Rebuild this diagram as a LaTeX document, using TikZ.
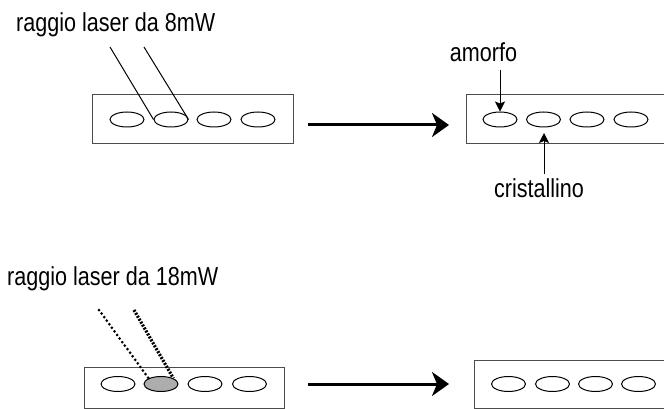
\documentclass[tikz,border=0pt]{standalone}
\usepackage{fontspec}
\setmainfont{Liberation Sans}[FakeStretch=0.83]
\usetikzlibrary{shapes.geometric,arrows.meta}
\begin{document}
\begin{tikzpicture}[x=1pt,y=-1pt,
  lbl/.style={font=\fontsize{26}{31}\selectfont, inner sep=0pt},
  panel/.style={draw=black!70, line width=1pt},
  cell/.style={ellipse, draw=black, line width=1pt, minimum width=34pt, minimum height=15pt, inner sep=0pt},
  bigarrow/.style={line width=3pt, -{Stealth[length=17pt,width=24pt,inset=5pt]}},
  smallarrow/.style={line width=0.8pt, -{Stealth[length=10pt,width=10pt,inset=2pt]}},
  beam/.style={line width=1pt},
  dotbeam/.style={line width=3pt, line cap=round, dash pattern=on 0pt off 4.4pt},
  densebeam/.style={line width=3.2pt, dash pattern=on 2pt off 1.4pt}]
\useasboundingbox (0,0) rectangle (664,409);
\clip (0,0) rectangle (664,409);

% top row
\node[lbl, anchor=base west] (t1) at (16,32) {raggio laser da 8mW};
\draw[panel] (92,95) rectangle (293,144);
\node[cell] (a1) at (127,119.5) {};
\node[cell] (a2) at (171,119.5) {};
\node[cell] (a3) at (214,119.5) {};
\node[cell] (a4) at (258,119.5) {};
\coordinate (l1) at (110,47);
\coordinate (l2) at (144,47);
\draw[beam] (l1) -- (a2.west);
\draw[beam] (l2) -- (a2.east);

\coordinate (r1s) at (308,125);
\coordinate (r1e) at (449,125);
\draw[bigarrow] (r1s) -- (r1e);

\draw[panel] (466,95) rectangle (690,144);
\node[cell] (b1) at (500,119.5) {};
\node[cell] (b2) at (543.5,119.5) {};
\node[cell] (b3) at (587,119.5) {};
\node[cell] (b4) at (631,119.5) {};
\node[lbl, anchor=base] (am) at (483.5,62) {amorfo};
\coordinate (amS) at (500,70);
\draw[smallarrow] (amS) -- (b1.north);
\node[lbl, anchor=base] (cr) at (539,197) {cristallino};
\coordinate (crS) at (544,174);
\coordinate (crE) at (544,133);
\draw[smallarrow] (crS) -- (crE);

% bottom row
\node[lbl, anchor=base west] (t2) at (7,285) {raggio laser da 18mW};
\draw[panel] (84,367) rectangle (284,408);
\node[cell] (c1) at (118,384) {};
\node[cell, fill=black!32] (c2) at (161,384) {};
\node[cell] (c3) at (205,384) {};
\node[cell] (c4) at (249.5,384) {};
\coordinate (d1) at (99,310);
\coordinate (d2) at (134,310);
\draw[dotbeam] (d1) -- (c2.north west);
\draw[densebeam] (d2) -- (c2.north east);

\coordinate (r2s) at (308,384);
\coordinate (r2e) at (449,384);
\draw[bigarrow] (r2s) -- (r2e);

\draw[panel] (474,360) rectangle (690,408);
\node[cell] (e1) at (508.5,384) {};
\node[cell] (e2) at (552.5,384) {};
\node[cell] (e3) at (595.5,384) {};
\node[cell] (e4) at (638.5,384) {};
\end{tikzpicture}
\end{document}
